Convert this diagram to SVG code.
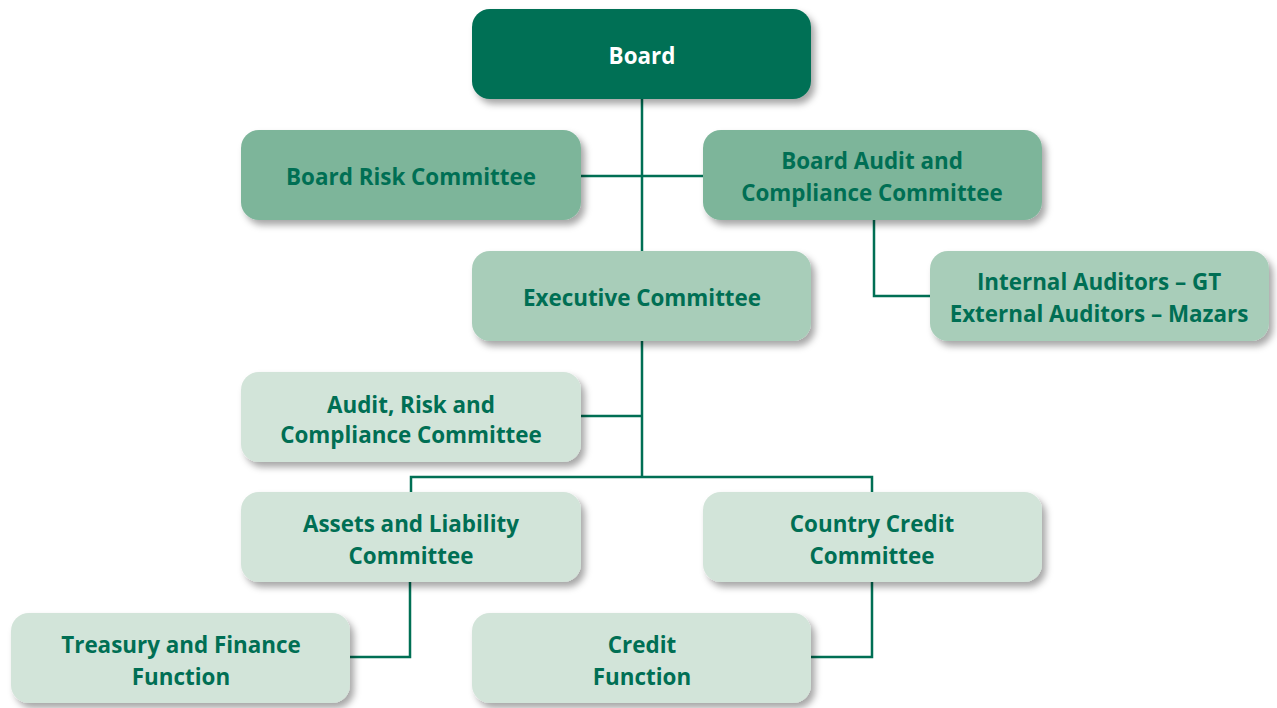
<svg xmlns="http://www.w3.org/2000/svg" width="1277" height="708" viewBox="0 0 1277 708">
<style>
.t{font-family:"Open Sans","Liberation Sans",sans-serif;font-weight:700;font-size:22.4px;fill:#006f54;text-anchor:middle}
.w{fill:#ffffff}
.c1{fill:#006f54}
.c2{fill:#7db59a}
.c3{fill:#a8cdb9}
.c4{fill:#d2e4d9}
.ln{fill:none;stroke:#006f54;stroke-width:2.5}
</style>
<defs>
<filter id="sh" x="-10%" y="-20%" width="125%" height="150%">
<feDropShadow dx="4" dy="5" stdDeviation="3.5" flood-color="#000" flood-opacity="0.35"/>
</filter>
</defs>
<rect width="1277" height="708" fill="#ffffff"/>
<g id="connectors">
<path class="ln" d="M642 99V477"/>
<path class="ln" d="M581 176H703"/>
<path class="ln" d="M874 220V296H930"/>
<path class="ln" d="M581 416H642"/>
<path class="ln" d="M411 492V477H872V492"/>
<path class="ln" d="M410 582V657H350"/>
<path class="ln" d="M872 582V657H811"/>
</g>
<g id="board"><rect class="c1" x="472" y="9" width="339" height="90" rx="18" filter="url(#sh)"/><text class="t w" x="642" y="63.5">Board</text></g>
<g id="board-risk"><rect class="c2" x="241" y="130" width="340" height="90" rx="18" filter="url(#sh)"/><text class="t" x="411" y="184.5">Board Risk Committee</text></g>
<g id="board-audit"><rect class="c2" x="703" y="130" width="339" height="90" rx="18" filter="url(#sh)"/><text class="t" x="872" y="168.5">Board Audit and</text><text class="t" x="872" y="200.5">Compliance Committee</text></g>
<g id="executive"><rect class="c3" x="472" y="251" width="339" height="90" rx="18" filter="url(#sh)"/><text class="t" x="642" y="305.5">Executive Committee</text></g>
<g id="auditors"><rect class="c3" x="930" y="251" width="339" height="90" rx="18" filter="url(#sh)"/><text class="t" x="1099" y="289.5">Internal Auditors – GT</text><text class="t" x="1099" y="321.5">External Auditors – Mazars</text></g>
<g id="arc"><rect class="c4" x="241" y="372" width="340" height="90" rx="18" filter="url(#sh)"/><text class="t" x="411" y="412.5">Audit, Risk and</text><text class="t" x="411" y="442.5">Compliance Committee</text></g>
<g id="alco"><rect class="c4" x="241" y="492" width="340" height="90" rx="18" filter="url(#sh)"/><text class="t" x="411" y="531.5">Assets and Liability</text><text class="t" x="411" y="563.5">Committee</text></g>
<g id="country-credit"><rect class="c4" x="703" y="492" width="339" height="90" rx="18" filter="url(#sh)"/><text class="t" x="872" y="531.5">Country Credit</text><text class="t" x="872" y="563.5">Committee</text></g>
<g id="treasury"><rect class="c4" x="11" y="613" width="339" height="90" rx="18" filter="url(#sh)"/><text class="t" x="181" y="652.5">Treasury and Finance</text><text class="t" x="181" y="684.5">Function</text></g>
<g id="credit-function"><rect class="c4" x="472" y="613" width="339" height="90" rx="18" filter="url(#sh)"/><text class="t" x="642" y="652.5">Credit</text><text class="t" x="642" y="684.5">Function</text></g>
</svg>
